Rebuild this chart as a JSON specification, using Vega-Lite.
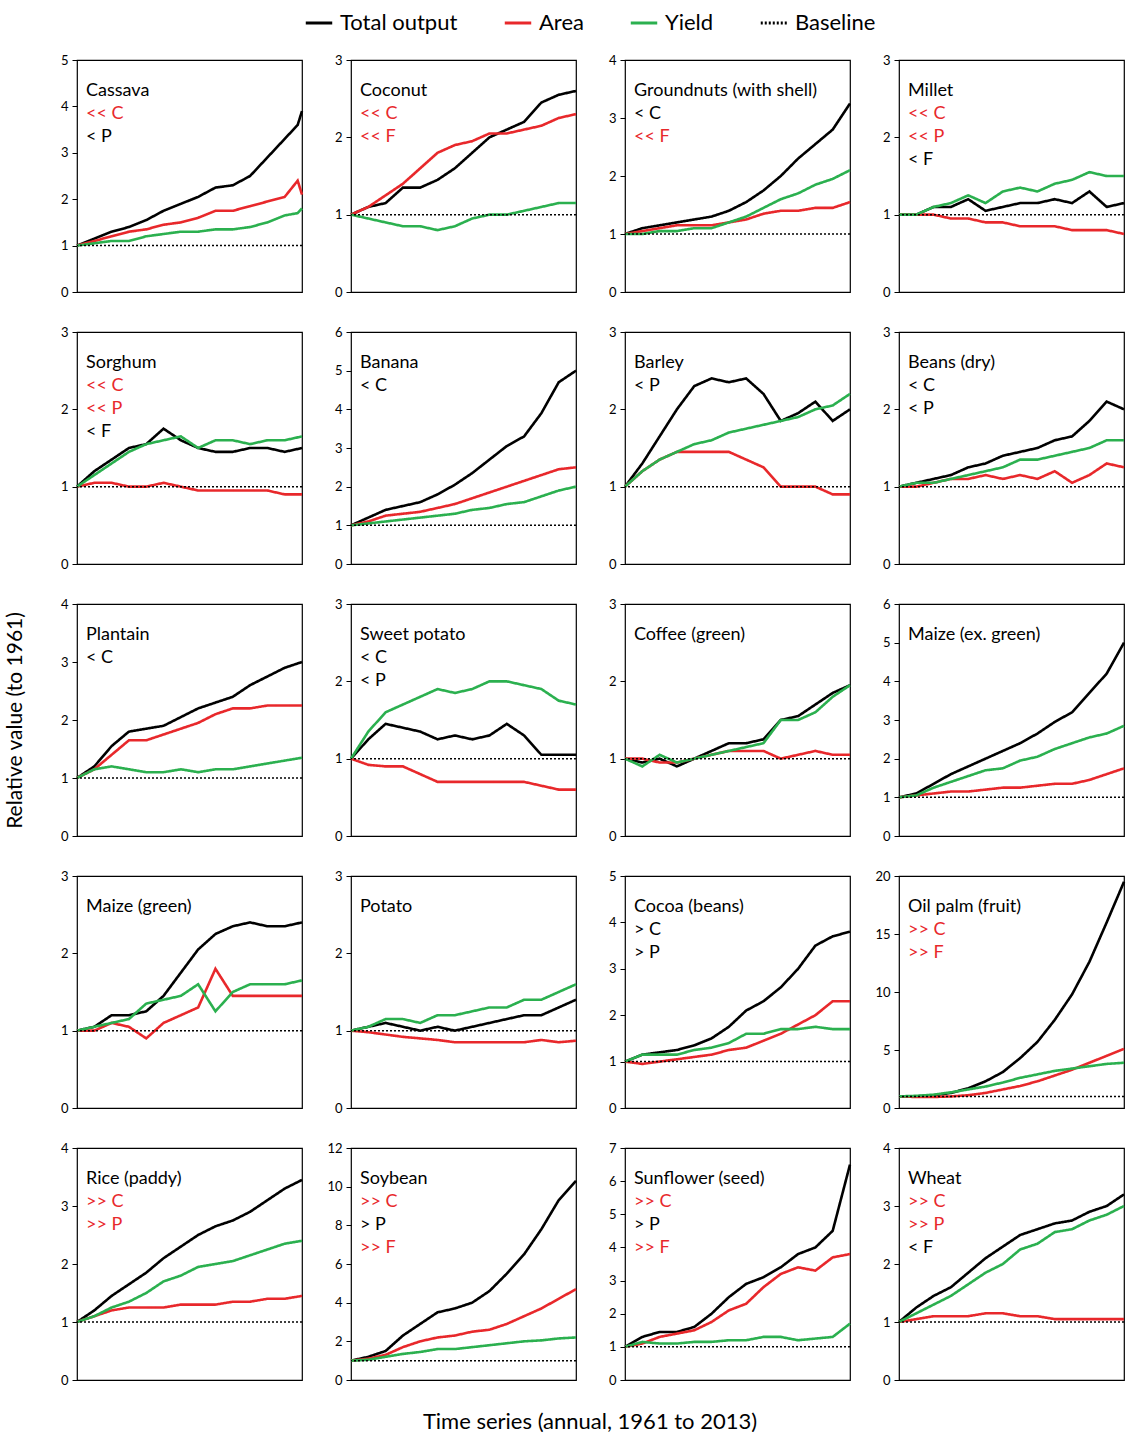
{
"$schema":"https://vega.github.io/schema/vega-lite/v6.json",
"background":"white",
"padding":{"left":5,"top":8,"right":5,"bottom":5},
"title":{"text":"Relative value (to 1961)","orient":"left","anchor":"middle","fontSize":21,"fontWeight":"normal","font":"Lato","color":"black","offset":24},
"config":{"view":{"stroke":"black","strokeWidth":1.2},"font":"Lato","legend":{"layout":{"top":{"anchor":"middle"}}}},
"datasets":{"d":[
{"p":"Cassava","m":5,"x":1961,"T":1.0,"A":1.0,"Y":1.0},{"p":"Cassava","x":1965,"T":1.15,"A":1.1,"Y":1.05},{"p":"Cassava","x":1969,"T":1.3,"A":1.2,"Y":1.1},{"p":"Cassava","x":1973,"T":1.4,"A":1.3,"Y":1.1},{"p":"Cassava","x":1977,"T":1.55,"A":1.35,"Y":1.2},{"p":"Cassava","x":1981,"T":1.75,"A":1.45,"Y":1.25},{"p":"Cassava","x":1985,"T":1.9,"A":1.5,"Y":1.3},{"p":"Cassava","x":1989,"T":2.05,"A":1.6,"Y":1.3},{"p":"Cassava","x":1993,"T":2.25,"A":1.75,"Y":1.35},{"p":"Cassava","x":1997,"T":2.3,"A":1.75,"Y":1.35},{"p":"Cassava","x":2001,"T":2.5,"A":1.85,"Y":1.4},{"p":"Cassava","x":2005,"T":2.9,"A":1.95,"Y":1.5},{"p":"Cassava","x":2009,"T":3.3,"A":2.05,"Y":1.65},{"p":"Cassava","x":2012,"T":3.6,"A":2.4,"Y":1.7},{"p":"Cassava","x":2013,"T":3.9,"A":2.1,"Y":1.8},
{"p":"Coconut","m":3,"x":1961,"T":1.0,"A":1.0,"Y":1.0},{"p":"Coconut","x":1965,"T":1.1,"A":1.1,"Y":0.95},{"p":"Coconut","x":1969,"T":1.15,"A":1.25,"Y":0.9},{"p":"Coconut","x":1973,"T":1.35,"A":1.4,"Y":0.85},{"p":"Coconut","x":1977,"T":1.35,"A":1.6,"Y":0.85},{"p":"Coconut","x":1981,"T":1.45,"A":1.8,"Y":0.8},{"p":"Coconut","x":1985,"T":1.6,"A":1.9,"Y":0.85},{"p":"Coconut","x":1989,"T":1.8,"A":1.95,"Y":0.95},{"p":"Coconut","x":1993,"T":2.0,"A":2.05,"Y":1.0},{"p":"Coconut","x":1997,"T":2.1,"A":2.05,"Y":1.0},{"p":"Coconut","x":2001,"T":2.2,"A":2.1,"Y":1.05},{"p":"Coconut","x":2005,"T":2.45,"A":2.15,"Y":1.1},{"p":"Coconut","x":2009,"T":2.55,"A":2.25,"Y":1.15},{"p":"Coconut","x":2013,"T":2.6,"A":2.3,"Y":1.15},
{"p":"Groundnuts (with shell)","m":4,"x":1961,"T":1.0,"A":1.0,"Y":1.0},{"p":"Groundnuts (with shell)","x":1965,"T":1.1,"A":1.05,"Y":1.0},{"p":"Groundnuts (with shell)","x":1969,"T":1.15,"A":1.1,"Y":1.05},{"p":"Groundnuts (with shell)","x":1973,"T":1.2,"A":1.15,"Y":1.05},{"p":"Groundnuts (with shell)","x":1977,"T":1.25,"A":1.15,"Y":1.1},{"p":"Groundnuts (with shell)","x":1981,"T":1.3,"A":1.15,"Y":1.1},{"p":"Groundnuts (with shell)","x":1985,"T":1.4,"A":1.2,"Y":1.2},{"p":"Groundnuts (with shell)","x":1989,"T":1.55,"A":1.25,"Y":1.3},{"p":"Groundnuts (with shell)","x":1993,"T":1.75,"A":1.35,"Y":1.45},{"p":"Groundnuts (with shell)","x":1997,"T":2.0,"A":1.4,"Y":1.6},{"p":"Groundnuts (with shell)","x":2001,"T":2.3,"A":1.4,"Y":1.7},{"p":"Groundnuts (with shell)","x":2005,"T":2.55,"A":1.45,"Y":1.85},{"p":"Groundnuts (with shell)","x":2009,"T":2.8,"A":1.45,"Y":1.95},{"p":"Groundnuts (with shell)","x":2013,"T":3.25,"A":1.55,"Y":2.1},
{"p":"Millet","m":3,"x":1961,"T":1.0,"A":1.0,"Y":1.0},{"p":"Millet","x":1965,"T":1.0,"A":1.0,"Y":1.0},{"p":"Millet","x":1969,"T":1.1,"A":1.0,"Y":1.1},{"p":"Millet","x":1973,"T":1.1,"A":0.95,"Y":1.15},{"p":"Millet","x":1977,"T":1.2,"A":0.95,"Y":1.25},{"p":"Millet","x":1981,"T":1.05,"A":0.9,"Y":1.15},{"p":"Millet","x":1985,"T":1.1,"A":0.9,"Y":1.3},{"p":"Millet","x":1989,"T":1.15,"A":0.85,"Y":1.35},{"p":"Millet","x":1993,"T":1.15,"A":0.85,"Y":1.3},{"p":"Millet","x":1997,"T":1.2,"A":0.85,"Y":1.4},{"p":"Millet","x":2001,"T":1.15,"A":0.8,"Y":1.45},{"p":"Millet","x":2005,"T":1.3,"A":0.8,"Y":1.55},{"p":"Millet","x":2009,"T":1.1,"A":0.8,"Y":1.5},{"p":"Millet","x":2013,"T":1.15,"A":0.75,"Y":1.5},
{"p":"Sorghum","m":3,"x":1961,"T":1.0,"A":1.0,"Y":1.0},{"p":"Sorghum","x":1965,"T":1.2,"A":1.05,"Y":1.15},{"p":"Sorghum","x":1969,"T":1.35,"A":1.05,"Y":1.3},{"p":"Sorghum","x":1973,"T":1.5,"A":1.0,"Y":1.45},{"p":"Sorghum","x":1977,"T":1.55,"A":1.0,"Y":1.55},{"p":"Sorghum","x":1981,"T":1.75,"A":1.05,"Y":1.6},{"p":"Sorghum","x":1985,"T":1.6,"A":1.0,"Y":1.65},{"p":"Sorghum","x":1989,"T":1.5,"A":0.95,"Y":1.5},{"p":"Sorghum","x":1993,"T":1.45,"A":0.95,"Y":1.6},{"p":"Sorghum","x":1997,"T":1.45,"A":0.95,"Y":1.6},{"p":"Sorghum","x":2001,"T":1.5,"A":0.95,"Y":1.55},{"p":"Sorghum","x":2005,"T":1.5,"A":0.95,"Y":1.6},{"p":"Sorghum","x":2009,"T":1.45,"A":0.9,"Y":1.6},{"p":"Sorghum","x":2013,"T":1.5,"A":0.9,"Y":1.65},
{"p":"Banana","m":6,"x":1961,"T":1.0,"A":1.0,"Y":1.0},{"p":"Banana","x":1965,"T":1.2,"A":1.1,"Y":1.05},{"p":"Banana","x":1969,"T":1.4,"A":1.25,"Y":1.1},{"p":"Banana","x":1973,"T":1.5,"A":1.3,"Y":1.15},{"p":"Banana","x":1977,"T":1.6,"A":1.35,"Y":1.2},{"p":"Banana","x":1981,"T":1.8,"A":1.45,"Y":1.25},{"p":"Banana","x":1985,"T":2.05,"A":1.55,"Y":1.3},{"p":"Banana","x":1989,"T":2.35,"A":1.7,"Y":1.4},{"p":"Banana","x":1993,"T":2.7,"A":1.85,"Y":1.45},{"p":"Banana","x":1997,"T":3.05,"A":2.0,"Y":1.55},{"p":"Banana","x":2001,"T":3.3,"A":2.15,"Y":1.6},{"p":"Banana","x":2005,"T":3.9,"A":2.3,"Y":1.75},{"p":"Banana","x":2009,"T":4.7,"A":2.45,"Y":1.9},{"p":"Banana","x":2013,"T":5.0,"A":2.5,"Y":2.0},
{"p":"Barley","m":3,"x":1961,"T":1.0,"A":1.0,"Y":1.0},{"p":"Barley","x":1965,"T":1.3,"A":1.2,"Y":1.2},{"p":"Barley","x":1969,"T":1.65,"A":1.35,"Y":1.35},{"p":"Barley","x":1973,"T":2.0,"A":1.45,"Y":1.45},{"p":"Barley","x":1977,"T":2.3,"A":1.45,"Y":1.55},{"p":"Barley","x":1981,"T":2.4,"A":1.45,"Y":1.6},{"p":"Barley","x":1985,"T":2.35,"A":1.45,"Y":1.7},{"p":"Barley","x":1989,"T":2.4,"A":1.35,"Y":1.75},{"p":"Barley","x":1993,"T":2.2,"A":1.25,"Y":1.8},{"p":"Barley","x":1997,"T":1.85,"A":1.0,"Y":1.85},{"p":"Barley","x":2001,"T":1.95,"A":1.0,"Y":1.9},{"p":"Barley","x":2005,"T":2.1,"A":1.0,"Y":2.0},{"p":"Barley","x":2009,"T":1.85,"A":0.9,"Y":2.05},{"p":"Barley","x":2013,"T":2.0,"A":0.9,"Y":2.2},
{"p":"Beans (dry)","m":3,"x":1961,"T":1.0,"A":1.0,"Y":1.0},{"p":"Beans (dry)","x":1965,"T":1.05,"A":1.0,"Y":1.05},{"p":"Beans (dry)","x":1969,"T":1.1,"A":1.05,"Y":1.05},{"p":"Beans (dry)","x":1973,"T":1.15,"A":1.1,"Y":1.1},{"p":"Beans (dry)","x":1977,"T":1.25,"A":1.1,"Y":1.15},{"p":"Beans (dry)","x":1981,"T":1.3,"A":1.15,"Y":1.2},{"p":"Beans (dry)","x":1985,"T":1.4,"A":1.1,"Y":1.25},{"p":"Beans (dry)","x":1989,"T":1.45,"A":1.15,"Y":1.35},{"p":"Beans (dry)","x":1993,"T":1.5,"A":1.1,"Y":1.35},{"p":"Beans (dry)","x":1997,"T":1.6,"A":1.2,"Y":1.4},{"p":"Beans (dry)","x":2001,"T":1.65,"A":1.05,"Y":1.45},{"p":"Beans (dry)","x":2005,"T":1.85,"A":1.15,"Y":1.5},{"p":"Beans (dry)","x":2009,"T":2.1,"A":1.3,"Y":1.6},{"p":"Beans (dry)","x":2013,"T":2.0,"A":1.25,"Y":1.6},
{"p":"Plantain","m":4,"x":1961,"T":1.0,"A":1.0,"Y":1.0},{"p":"Plantain","x":1965,"T":1.2,"A":1.15,"Y":1.15},{"p":"Plantain","x":1969,"T":1.55,"A":1.4,"Y":1.2},{"p":"Plantain","x":1973,"T":1.8,"A":1.65,"Y":1.15},{"p":"Plantain","x":1977,"T":1.85,"A":1.65,"Y":1.1},{"p":"Plantain","x":1981,"T":1.9,"A":1.75,"Y":1.1},{"p":"Plantain","x":1985,"T":2.05,"A":1.85,"Y":1.15},{"p":"Plantain","x":1989,"T":2.2,"A":1.95,"Y":1.1},{"p":"Plantain","x":1993,"T":2.3,"A":2.1,"Y":1.15},{"p":"Plantain","x":1997,"T":2.4,"A":2.2,"Y":1.15},{"p":"Plantain","x":2001,"T":2.6,"A":2.2,"Y":1.2},{"p":"Plantain","x":2005,"T":2.75,"A":2.25,"Y":1.25},{"p":"Plantain","x":2009,"T":2.9,"A":2.25,"Y":1.3},{"p":"Plantain","x":2013,"T":3.0,"A":2.25,"Y":1.35},
{"p":"Sweet potato","m":3,"x":1961,"T":1.0,"A":1.0,"Y":1.0},{"p":"Sweet potato","x":1965,"T":1.25,"A":0.92,"Y":1.35},{"p":"Sweet potato","x":1969,"T":1.45,"A":0.9,"Y":1.6},{"p":"Sweet potato","x":1973,"T":1.4,"A":0.9,"Y":1.7},{"p":"Sweet potato","x":1977,"T":1.35,"A":0.8,"Y":1.8},{"p":"Sweet potato","x":1981,"T":1.25,"A":0.7,"Y":1.9},{"p":"Sweet potato","x":1985,"T":1.3,"A":0.7,"Y":1.85},{"p":"Sweet potato","x":1989,"T":1.25,"A":0.7,"Y":1.9},{"p":"Sweet potato","x":1993,"T":1.3,"A":0.7,"Y":2.0},{"p":"Sweet potato","x":1997,"T":1.45,"A":0.7,"Y":2.0},{"p":"Sweet potato","x":2001,"T":1.3,"A":0.7,"Y":1.95},{"p":"Sweet potato","x":2005,"T":1.05,"A":0.65,"Y":1.9},{"p":"Sweet potato","x":2009,"T":1.05,"A":0.6,"Y":1.75},{"p":"Sweet potato","x":2013,"T":1.05,"A":0.6,"Y":1.7},
{"p":"Coffee (green)","m":3,"x":1961,"T":1.0,"A":1.0,"Y":1.0},{"p":"Coffee (green)","x":1965,"T":0.95,"A":1.0,"Y":0.9},{"p":"Coffee (green)","x":1969,"T":1.0,"A":0.95,"Y":1.05},{"p":"Coffee (green)","x":1973,"T":0.9,"A":0.95,"Y":0.95},{"p":"Coffee (green)","x":1977,"T":1.0,"A":1.0,"Y":1.0},{"p":"Coffee (green)","x":1981,"T":1.1,"A":1.05,"Y":1.05},{"p":"Coffee (green)","x":1985,"T":1.2,"A":1.1,"Y":1.1},{"p":"Coffee (green)","x":1989,"T":1.2,"A":1.1,"Y":1.15},{"p":"Coffee (green)","x":1993,"T":1.25,"A":1.1,"Y":1.2},{"p":"Coffee (green)","x":1997,"T":1.5,"A":1.0,"Y":1.5},{"p":"Coffee (green)","x":2001,"T":1.55,"A":1.05,"Y":1.5},{"p":"Coffee (green)","x":2005,"T":1.7,"A":1.1,"Y":1.6},{"p":"Coffee (green)","x":2009,"T":1.85,"A":1.05,"Y":1.8},{"p":"Coffee (green)","x":2013,"T":1.95,"A":1.05,"Y":1.95},
{"p":"Maize (ex. green)","m":6,"x":1961,"T":1.0,"A":1.0,"Y":1.0},{"p":"Maize (ex. green)","x":1965,"T":1.1,"A":1.05,"Y":1.05},{"p":"Maize (ex. green)","x":1969,"T":1.35,"A":1.1,"Y":1.25},{"p":"Maize (ex. green)","x":1973,"T":1.6,"A":1.15,"Y":1.4},{"p":"Maize (ex. green)","x":1977,"T":1.8,"A":1.15,"Y":1.55},{"p":"Maize (ex. green)","x":1981,"T":2.0,"A":1.2,"Y":1.7},{"p":"Maize (ex. green)","x":1985,"T":2.2,"A":1.25,"Y":1.75},{"p":"Maize (ex. green)","x":1989,"T":2.4,"A":1.25,"Y":1.95},{"p":"Maize (ex. green)","x":1993,"T":2.65,"A":1.3,"Y":2.05},{"p":"Maize (ex. green)","x":1997,"T":2.95,"A":1.35,"Y":2.25},{"p":"Maize (ex. green)","x":2001,"T":3.2,"A":1.35,"Y":2.4},{"p":"Maize (ex. green)","x":2005,"T":3.7,"A":1.45,"Y":2.55},{"p":"Maize (ex. green)","x":2009,"T":4.2,"A":1.6,"Y":2.65},{"p":"Maize (ex. green)","x":2013,"T":5.0,"A":1.75,"Y":2.85},
{"p":"Maize (green)","m":3,"x":1961,"T":1.0,"A":1.0,"Y":1.0},{"p":"Maize (green)","x":1965,"T":1.05,"A":1.0,"Y":1.05},{"p":"Maize (green)","x":1969,"T":1.2,"A":1.1,"Y":1.1},{"p":"Maize (green)","x":1973,"T":1.2,"A":1.05,"Y":1.15},{"p":"Maize (green)","x":1977,"T":1.25,"A":0.9,"Y":1.35},{"p":"Maize (green)","x":1981,"T":1.45,"A":1.1,"Y":1.4},{"p":"Maize (green)","x":1985,"T":1.75,"A":1.2,"Y":1.45},{"p":"Maize (green)","x":1989,"T":2.05,"A":1.3,"Y":1.6},{"p":"Maize (green)","x":1993,"T":2.25,"A":1.8,"Y":1.25},{"p":"Maize (green)","x":1997,"T":2.35,"A":1.45,"Y":1.5},{"p":"Maize (green)","x":2001,"T":2.4,"A":1.45,"Y":1.6},{"p":"Maize (green)","x":2005,"T":2.35,"A":1.45,"Y":1.6},{"p":"Maize (green)","x":2009,"T":2.35,"A":1.45,"Y":1.6},{"p":"Maize (green)","x":2013,"T":2.4,"A":1.45,"Y":1.65},
{"p":"Potato","m":3,"x":1961,"T":1.0,"A":1.0,"Y":1.0},{"p":"Potato","x":1965,"T":1.05,"A":0.98,"Y":1.05},{"p":"Potato","x":1969,"T":1.1,"A":0.95,"Y":1.15},{"p":"Potato","x":1973,"T":1.05,"A":0.92,"Y":1.15},{"p":"Potato","x":1977,"T":1.0,"A":0.9,"Y":1.1},{"p":"Potato","x":1981,"T":1.05,"A":0.88,"Y":1.2},{"p":"Potato","x":1985,"T":1.0,"A":0.85,"Y":1.2},{"p":"Potato","x":1989,"T":1.05,"A":0.85,"Y":1.25},{"p":"Potato","x":1993,"T":1.1,"A":0.85,"Y":1.3},{"p":"Potato","x":1997,"T":1.15,"A":0.85,"Y":1.3},{"p":"Potato","x":2001,"T":1.2,"A":0.85,"Y":1.4},{"p":"Potato","x":2005,"T":1.2,"A":0.88,"Y":1.4},{"p":"Potato","x":2009,"T":1.3,"A":0.85,"Y":1.5},{"p":"Potato","x":2013,"T":1.4,"A":0.87,"Y":1.6},
{"p":"Cocoa (beans)","m":5,"x":1961,"T":1.0,"A":1.0,"Y":1.0},{"p":"Cocoa (beans)","x":1965,"T":1.15,"A":0.95,"Y":1.15},{"p":"Cocoa (beans)","x":1969,"T":1.2,"A":1.0,"Y":1.15},{"p":"Cocoa (beans)","x":1973,"T":1.25,"A":1.05,"Y":1.15},{"p":"Cocoa (beans)","x":1977,"T":1.35,"A":1.1,"Y":1.25},{"p":"Cocoa (beans)","x":1981,"T":1.5,"A":1.15,"Y":1.3},{"p":"Cocoa (beans)","x":1985,"T":1.75,"A":1.25,"Y":1.4},{"p":"Cocoa (beans)","x":1989,"T":2.1,"A":1.3,"Y":1.6},{"p":"Cocoa (beans)","x":1993,"T":2.3,"A":1.45,"Y":1.6},{"p":"Cocoa (beans)","x":1997,"T":2.6,"A":1.6,"Y":1.7},{"p":"Cocoa (beans)","x":2001,"T":3.0,"A":1.8,"Y":1.7},{"p":"Cocoa (beans)","x":2005,"T":3.5,"A":2.0,"Y":1.75},{"p":"Cocoa (beans)","x":2009,"T":3.7,"A":2.3,"Y":1.7},{"p":"Cocoa (beans)","x":2013,"T":3.8,"A":2.3,"Y":1.7},
{"p":"Oil palm (fruit)","m":20,"x":1961,"T":1.0,"A":1.0,"Y":1.0},{"p":"Oil palm (fruit)","x":1965,"T":1.0,"A":0.95,"Y":1.05},{"p":"Oil palm (fruit)","x":1969,"T":1.1,"A":0.95,"Y":1.15},{"p":"Oil palm (fruit)","x":1973,"T":1.3,"A":1.0,"Y":1.35},{"p":"Oil palm (fruit)","x":1977,"T":1.7,"A":1.1,"Y":1.6},{"p":"Oil palm (fruit)","x":1981,"T":2.3,"A":1.3,"Y":1.85},{"p":"Oil palm (fruit)","x":1985,"T":3.1,"A":1.6,"Y":2.2},{"p":"Oil palm (fruit)","x":1989,"T":4.3,"A":1.9,"Y":2.6},{"p":"Oil palm (fruit)","x":1993,"T":5.7,"A":2.3,"Y":2.9},{"p":"Oil palm (fruit)","x":1997,"T":7.6,"A":2.8,"Y":3.2},{"p":"Oil palm (fruit)","x":2001,"T":9.8,"A":3.3,"Y":3.4},{"p":"Oil palm (fruit)","x":2005,"T":12.6,"A":3.9,"Y":3.6},{"p":"Oil palm (fruit)","x":2009,"T":16.0,"A":4.5,"Y":3.8},{"p":"Oil palm (fruit)","x":2013,"T":19.5,"A":5.1,"Y":3.9},
{"p":"Rice (paddy)","m":4,"x":1961,"T":1.0,"A":1.0,"Y":1.0},{"p":"Rice (paddy)","x":1965,"T":1.2,"A":1.1,"Y":1.1},{"p":"Rice (paddy)","x":1969,"T":1.45,"A":1.2,"Y":1.25},{"p":"Rice (paddy)","x":1973,"T":1.65,"A":1.25,"Y":1.35},{"p":"Rice (paddy)","x":1977,"T":1.85,"A":1.25,"Y":1.5},{"p":"Rice (paddy)","x":1981,"T":2.1,"A":1.25,"Y":1.7},{"p":"Rice (paddy)","x":1985,"T":2.3,"A":1.3,"Y":1.8},{"p":"Rice (paddy)","x":1989,"T":2.5,"A":1.3,"Y":1.95},{"p":"Rice (paddy)","x":1993,"T":2.65,"A":1.3,"Y":2.0},{"p":"Rice (paddy)","x":1997,"T":2.75,"A":1.35,"Y":2.05},{"p":"Rice (paddy)","x":2001,"T":2.9,"A":1.35,"Y":2.15},{"p":"Rice (paddy)","x":2005,"T":3.1,"A":1.4,"Y":2.25},{"p":"Rice (paddy)","x":2009,"T":3.3,"A":1.4,"Y":2.35},{"p":"Rice (paddy)","x":2013,"T":3.45,"A":1.45,"Y":2.4},
{"p":"Soybean","m":12,"x":1961,"T":1.0,"A":1.0,"Y":1.0},{"p":"Soybean","x":1965,"T":1.2,"A":1.1,"Y":1.05},{"p":"Soybean","x":1969,"T":1.5,"A":1.3,"Y":1.2},{"p":"Soybean","x":1973,"T":2.3,"A":1.7,"Y":1.35},{"p":"Soybean","x":1977,"T":2.9,"A":2.0,"Y":1.45},{"p":"Soybean","x":1981,"T":3.5,"A":2.2,"Y":1.6},{"p":"Soybean","x":1985,"T":3.7,"A":2.3,"Y":1.6},{"p":"Soybean","x":1989,"T":4.0,"A":2.5,"Y":1.7},{"p":"Soybean","x":1993,"T":4.6,"A":2.6,"Y":1.8},{"p":"Soybean","x":1997,"T":5.5,"A":2.9,"Y":1.9},{"p":"Soybean","x":2001,"T":6.5,"A":3.3,"Y":2.0},{"p":"Soybean","x":2005,"T":7.8,"A":3.7,"Y":2.05},{"p":"Soybean","x":2009,"T":9.3,"A":4.2,"Y":2.15},{"p":"Soybean","x":2013,"T":10.3,"A":4.7,"Y":2.2},
{"p":"Sunflower (seed)","m":7,"x":1961,"T":1.0,"A":1.0,"Y":1.0},{"p":"Sunflower (seed)","x":1965,"T":1.3,"A":1.1,"Y":1.15},{"p":"Sunflower (seed)","x":1969,"T":1.45,"A":1.3,"Y":1.1},{"p":"Sunflower (seed)","x":1973,"T":1.45,"A":1.4,"Y":1.1},{"p":"Sunflower (seed)","x":1977,"T":1.6,"A":1.5,"Y":1.15},{"p":"Sunflower (seed)","x":1981,"T":2.0,"A":1.75,"Y":1.15},{"p":"Sunflower (seed)","x":1985,"T":2.5,"A":2.1,"Y":1.2},{"p":"Sunflower (seed)","x":1989,"T":2.9,"A":2.3,"Y":1.2},{"p":"Sunflower (seed)","x":1993,"T":3.1,"A":2.8,"Y":1.3},{"p":"Sunflower (seed)","x":1997,"T":3.4,"A":3.2,"Y":1.3},{"p":"Sunflower (seed)","x":2001,"T":3.8,"A":3.4,"Y":1.2},{"p":"Sunflower (seed)","x":2005,"T":4.0,"A":3.3,"Y":1.25},{"p":"Sunflower (seed)","x":2009,"T":4.5,"A":3.7,"Y":1.3},{"p":"Sunflower (seed)","x":2013,"T":6.5,"A":3.8,"Y":1.7},
{"p":"Wheat","m":4,"x":1961,"T":1.0,"A":1.0,"Y":1.0},{"p":"Wheat","x":1965,"T":1.25,"A":1.05,"Y":1.15},{"p":"Wheat","x":1969,"T":1.45,"A":1.1,"Y":1.3},{"p":"Wheat","x":1973,"T":1.6,"A":1.1,"Y":1.45},{"p":"Wheat","x":1977,"T":1.85,"A":1.1,"Y":1.65},{"p":"Wheat","x":1981,"T":2.1,"A":1.15,"Y":1.85},{"p":"Wheat","x":1985,"T":2.3,"A":1.15,"Y":2.0},{"p":"Wheat","x":1989,"T":2.5,"A":1.1,"Y":2.25},{"p":"Wheat","x":1993,"T":2.6,"A":1.1,"Y":2.35},{"p":"Wheat","x":1997,"T":2.7,"A":1.05,"Y":2.55},{"p":"Wheat","x":2001,"T":2.75,"A":1.05,"Y":2.6},{"p":"Wheat","x":2005,"T":2.9,"A":1.05,"Y":2.75},{"p":"Wheat","x":2009,"T":3.0,"A":1.05,"Y":2.85},{"p":"Wheat","x":2013,"T":3.2,"A":1.05,"Y":3.0},
{"p":"Cassava","line":0,"t":"Cassava","c":"k"},{"p":"Cassava","line":1,"t":"<< C","c":"r"},{"p":"Cassava","line":2,"t":"< P","c":"k"},
{"p":"Coconut","line":0,"t":"Coconut","c":"k"},{"p":"Coconut","line":1,"t":"<< C","c":"r"},{"p":"Coconut","line":2,"t":"<< F","c":"r"},
{"p":"Groundnuts (with shell)","line":0,"t":"Groundnuts (with shell)","c":"k"},{"p":"Groundnuts (with shell)","line":1,"t":"< C","c":"k"},{"p":"Groundnuts (with shell)","line":2,"t":"<< F","c":"r"},
{"p":"Millet","line":0,"t":"Millet","c":"k"},{"p":"Millet","line":1,"t":"<< C","c":"r"},{"p":"Millet","line":2,"t":"<< P","c":"r"},{"p":"Millet","line":3,"t":"< F","c":"k"},
{"p":"Sorghum","line":0,"t":"Sorghum","c":"k"},{"p":"Sorghum","line":1,"t":"<< C","c":"r"},{"p":"Sorghum","line":2,"t":"<< P","c":"r"},{"p":"Sorghum","line":3,"t":"< F","c":"k"},
{"p":"Banana","line":0,"t":"Banana","c":"k"},{"p":"Banana","line":1,"t":"< C","c":"k"},
{"p":"Barley","line":0,"t":"Barley","c":"k"},{"p":"Barley","line":1,"t":"< P","c":"k"},
{"p":"Beans (dry)","line":0,"t":"Beans (dry)","c":"k"},{"p":"Beans (dry)","line":1,"t":"< C","c":"k"},{"p":"Beans (dry)","line":2,"t":"< P","c":"k"},
{"p":"Plantain","line":0,"t":"Plantain","c":"k"},{"p":"Plantain","line":1,"t":"< C","c":"k"},
{"p":"Sweet potato","line":0,"t":"Sweet potato","c":"k"},{"p":"Sweet potato","line":1,"t":"< C","c":"k"},{"p":"Sweet potato","line":2,"t":"< P","c":"k"},
{"p":"Coffee (green)","line":0,"t":"Coffee (green)","c":"k"},
{"p":"Maize (ex. green)","line":0,"t":"Maize (ex. green)","c":"k"},
{"p":"Maize (green)","line":0,"t":"Maize (green)","c":"k"},
{"p":"Potato","line":0,"t":"Potato","c":"k"},
{"p":"Cocoa (beans)","line":0,"t":"Cocoa (beans)","c":"k"},{"p":"Cocoa (beans)","line":1,"t":"> C","c":"k"},{"p":"Cocoa (beans)","line":2,"t":"> P","c":"k"},
{"p":"Oil palm (fruit)","line":0,"t":"Oil palm (fruit)","c":"k"},{"p":"Oil palm (fruit)","line":1,"t":">> C","c":"r"},{"p":"Oil palm (fruit)","line":2,"t":">> F","c":"r"},
{"p":"Rice (paddy)","line":0,"t":"Rice (paddy)","c":"k"},{"p":"Rice (paddy)","line":1,"t":">> C","c":"r"},{"p":"Rice (paddy)","line":2,"t":">> P","c":"r"},
{"p":"Soybean","line":0,"t":"Soybean","c":"k"},{"p":"Soybean","line":1,"t":">> C","c":"r"},{"p":"Soybean","line":2,"t":"> P","c":"k"},{"p":"Soybean","line":3,"t":">> F","c":"r"},
{"p":"Sunflower (seed)","line":0,"t":"Sunflower (seed)","c":"k"},{"p":"Sunflower (seed)","line":1,"t":">> C","c":"r"},{"p":"Sunflower (seed)","line":2,"t":"> P","c":"k"},{"p":"Sunflower (seed)","line":3,"t":">> F","c":"r"},
{"p":"Wheat","line":0,"t":"Wheat","c":"k"},{"p":"Wheat","line":1,"t":">> C","c":"r"},{"p":"Wheat","line":2,"t":">> P","c":"r"},{"p":"Wheat","line":3,"t":"< F","c":"k"}
]},
"data":{"name":"d"},
"transform":[{"fold":["T","A","Y"],"as":["key","value"]}],
"facet":{"field":"p","type":"nominal","title":"Time series (annual, 1961 to 2013)",
 "sort":["Cassava","Coconut","Groundnuts (with shell)","Millet","Sorghum","Banana","Barley","Beans (dry)","Plantain","Sweet potato","Coffee (green)","Maize (ex. green)","Maize (green)","Potato","Cocoa (beans)","Oil palm (fruit)","Rice (paddy)","Soybean","Sunflower (seed)","Wheat"],
 "header":{"labels":false,"labelExpr":"''","labelFontSize":1,"labelPadding":0,"titleOrient":"bottom","titleFontSize":22,"titleFontWeight":"normal","titleFont":"Lato","titleColor":"black","titlePadding":24}},
"columns":4,
"spacing":{"row":24,"column":16},
"resolve":{"scale":{"y":"independent"}},
"spec":{
 "width":225,"height":232,
 "resolve":{"scale":{"y":"independent"}},
 "layer":[
  {"layer":[
    {"transform":[{"filter":"isValid(datum.x) && isValid(datum.value)"}],
     "mark":{"type":"line","strokeWidth":2.6},
     "encoding":{
      "x":{"field":"x","type":"quantitative","scale":{"domain":[1961,2013],"nice":false,"zero":false},"axis":null},
      "y":{"field":"value","type":"quantitative","title":null,"axis":{"tickCount":6,"tickMinStep":1,"grid":false,"ticks":true,"tickSize":5,"tickColor":"black","domain":false,"labelFontSize":13,"labelColor":"black","labelPadding":4,"labelFont":"Lato","minExtent":26,"maxExtent":26}},
      "color":{"field":"key","type":"nominal","scale":{"domain":["T","A","Y","B"],"range":["#000000","#e8282b","#2bb04f","#000000"]},
        "legend":{"orient":"top","direction":"horizontal","title":null,"labelExpr":"{'T':'Total output','A':'Area','Y':'Yield','B':'Baseline'}[datum.label]","labelFontSize":22,"labelFont":"Lato","labelColor":"black","symbolType":"stroke","symbolSize":700,"symbolStrokeWidth":3,"columnPadding":40,"labelOffset":6}},
      "strokeDash":{"field":"key","type":"nominal","scale":{"domain":["T","A","Y","B"],"range":[[1,0],[1,0],[1,0],[2,2]]}}
     }},
    {"transform":[{"filter":"isValid(datum.m) && datum.key==='T'"}],"mark":{"type":"point","opacity":0},"encoding":{"y":{"field":"m","type":"quantitative"}}},
    {"transform":[{"filter":"isValid(datum.m) && datum.key==='T'"}],"mark":{"type":"rule","strokeWidth":1.5},"encoding":{"y":{"datum":1},"color":{"datum":"B"},"strokeDash":{"datum":"B"}}}
  ]},
  {"transform":[{"filter":"isValid(datum.line) && datum.key==='T'"}],
   "mark":{"type":"text","align":"left","baseline":"middle","dx":9,"fontSize":18,"font":"Lato"},
   "encoding":{
    "x":{"datum":1961,"type":"quantitative"},
    "y":{"field":"line","type":"ordinal","axis":null,"scale":{"type":"point","domain":[0,1,2,3,4,5,6,7,8],"range":[19,227]}},
    "text":{"field":"t"},
    "color":{"condition":{"test":"datum.c==='r'","value":"#e8282b"},"value":"black"}
   }}
 ]
}
}
